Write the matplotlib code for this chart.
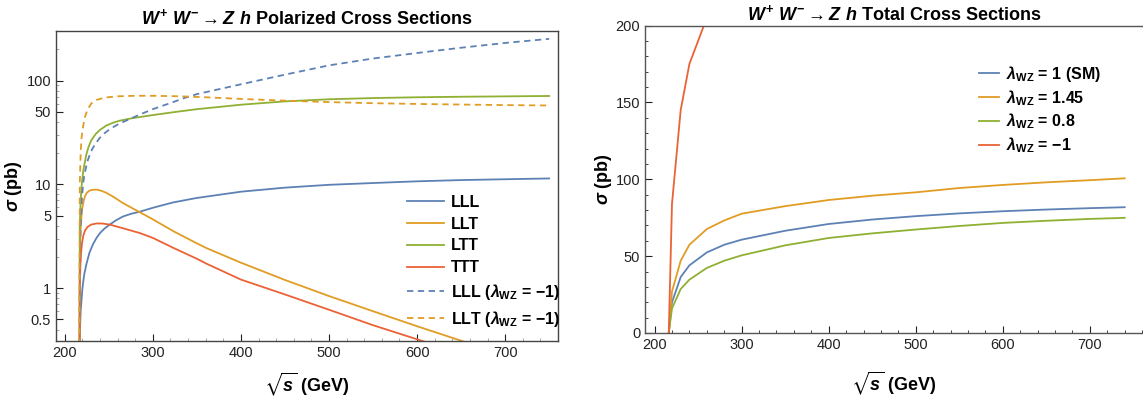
import numpy as np
import matplotlib.pyplot as plt
from matplotlib.ticker import FixedLocator, FixedFormatter, MultipleLocator

plt.rcParams['font.family'] = ['Liberation Sans', 'DejaVu Sans']
plt.rcParams['mathtext.fontset'] = 'custom'
plt.rcParams['mathtext.rm'] = 'Liberation Sans:bold'
plt.rcParams['mathtext.it'] = 'Liberation Sans:italic:bold'
plt.rcParams['mathtext.bf'] = 'Liberation Sans:bold'
plt.rcParams['mathtext.fallback'] = 'stixsans'

# Mathematica default colours
c_blue, c_orange, c_green, c_red = '#5E81B5', '#E19C24', '#8FB032', '#EB6235'

# ---- left panel: polarized cross sections (pb) ----
e_lll = [216.3, 217, 218, 220, 222, 224.5, 228, 232, 236, 240, 245, 251, 258, 266, 275, 285, 300, 323, 350,
         400, 450, 500, 550, 600, 650, 700, 750]
s_lll = [0.001, 0.35, 0.6, 1.0, 1.35, 1.7, 2.2, 2.65, 3.05, 3.4, 3.75, 4.1, 4.5, 4.9, 5.2, 5.45, 5.95, 6.7, 7.4,
         8.5, 9.3, 9.9, 10.3, 10.7, 11.0, 11.2, 11.4]

e_llt = [216.3, 217, 218, 219, 220, 221.5, 223, 225, 228, 231, 236, 241, 247, 255, 266, 275, 285, 300, 323, 350,
         361, 400, 450, 500, 550, 600, 651, 680]
s_llt = [0.001, 2.0, 3.8, 5.0, 6.0, 7.0, 7.7, 8.3, 8.7, 8.85, 8.9, 8.7, 8.3, 7.6, 6.6, 6.0, 5.4, 4.6, 3.55, 2.7,
         2.43, 1.76, 1.2, 0.84, 0.6, 0.43, 0.31, 0.25]

e_ltt = [216.3, 217, 218, 219, 220, 221, 222.5, 224.5, 227, 230, 235, 240, 247, 255, 262, 276, 300, 323, 350,
         400, 450, 500, 550, 600, 650, 700, 750]
s_ltt = [0.001, 4, 7, 9.5, 11.5, 13.5, 16, 19.5, 23, 26.5, 30.5, 33.5, 36.8, 39.3, 41, 43.3, 46.5, 49.5, 53,
         58.5, 63, 66, 67.8, 69, 69.8, 70.4, 71]

e_ttt = [216.3, 217, 217.5, 218.5, 219.5, 221, 223, 226, 230, 236, 242, 251, 265, 285, 300, 323, 350, 361,
         400, 450, 500, 550, 606, 630]
s_ttt = [0.001, 1.0, 1.5, 2.2, 2.7, 3.2, 3.6, 3.9, 4.1, 4.2, 4.2, 4.1, 3.8, 3.4, 3.05, 2.45, 1.92, 1.72,
         1.21, 0.87, 0.62, 0.44, 0.31, 0.27]

e_lll_m1 = [216.3, 217, 218, 219.5, 220.7, 222, 224, 226, 228.3, 231, 234, 239.6, 245, 250, 256, 262, 275, 285,
            300, 323, 336, 350, 400, 450, 500, 550, 613, 650, 704, 750]
s_lll_m1 = [0.001, 1.5, 4, 7.5, 9.9, 12, 14.5, 17, 19.2, 21.8, 24, 28, 31, 33.5, 36, 38.5, 43, 47,
            53, 62, 68, 74, 92, 114, 140, 163, 190, 207, 232, 252]

e_llt_m1 = [216.3, 217, 218, 219, 220.7, 223, 226, 230, 236, 245, 260, 280, 300, 330, 360, 400, 450, 500,
            550, 600, 650, 700, 750]
s_llt_m1 = [0.001, 10, 20, 28, 36, 45, 53, 60, 65, 68.5, 70.5, 71.3, 71.3, 70.5, 69, 66.5, 64, 62,
            60.5, 59.5, 58.7, 58, 57.5]

# ---- right panel: total cross sections (pb) ----
e_tot = [216.3, 220, 230, 240, 260, 280, 300, 350, 400, 450, 500, 550, 600, 650, 700, 740]
s_sm = [0, 20, 36.4, 44, 52.4, 57.4, 60.7, 66.5, 70.9, 73.8, 76, 77.8, 79.2, 80.3, 81.2, 81.8]
s_145 = [0, 27, 47, 57.4, 67.6, 73.2, 77.6, 82.5, 86.5, 89.3, 91.5, 94.3, 96.3, 98, 99.4, 100.6]
s_08 = [0, 16, 28.6, 34.7, 42.3, 47, 50.5, 57, 61.8, 64.8, 67.3, 69.6, 71.6, 73, 74.2, 74.9]
e_m1 = [216.3, 220, 230, 240, 260]
s_m1 = [0, 84, 145, 175, 205]

fig = plt.figure(figsize=(11.43, 3.98), dpi=100)
ax1 = fig.add_axes([56 / 1143, 57 / 398, 502 / 1143, 310 / 398])
ax2 = fig.add_axes([645 / 1143, 65 / 398, 498 / 1143, 307.5 / 398])

lw = 1.3
ax1.plot(e_lll, s_lll, color=c_blue, lw=lw, label='LLL')
ax1.plot(e_llt, s_llt, color=c_orange, lw=lw, label='LLT')
ax1.plot(e_ltt, s_ltt, color=c_green, lw=lw, label='LTT')
ax1.plot(e_ttt, s_ttt, color=c_red, lw=lw, label='TTT')
ax1.plot(e_lll_m1, s_lll_m1, color=c_blue, lw=lw, ls=(0, (3.5, 2.5)),
         label=r'LLL ($\lambda_{\mathrm{WZ}}$ = −1)')
ax1.plot(e_llt_m1, s_llt_m1, color=c_orange, lw=lw, ls=(0, (3.5, 2.5)),
         label=r'LLT ($\lambda_{\mathrm{WZ}}$ = −1)')

ax1.set_yscale('log')
ax1.set_xlim(190, 760)
ax1.set_ylim(0.31, 300)
yt = [0.5, 1, 5, 10, 50, 100]
ax1.yaxis.set_major_locator(FixedLocator(yt))
ax1.yaxis.set_major_formatter(FixedFormatter(['0.5', '1', '5', '10', '50', '100']))
minor = [m * 10.0 ** d for d in (-1, 0, 1, 2) for m in (2, 3, 4, 6, 7, 8, 9)]
ax1.yaxis.set_minor_locator(FixedLocator(minor))
ax1.yaxis.set_minor_formatter(FixedFormatter([''] * len(minor)))
ax1.xaxis.set_major_locator(MultipleLocator(100))
ax1.xaxis.set_minor_locator(MultipleLocator(20))
ax1.tick_params(which='both', direction='in', top=False, right=False, labelsize=10.5, colors='#222222')
ax1.tick_params(which='major', length=5)
ax1.tick_params(which='minor', length=2.5, color='#999999')
for s in ax1.spines.values():
    s.set_color('#444444')
    s.set_linewidth(1.0)

ax1.set_title(r'$W^{+}\ W^{-} \rightarrow Z\ h$ Polarized Cross Sections',
              fontsize=13, fontweight='bold', pad=5)
ax1.set_xlabel(r'$\sqrt{s}$ (GeV)', fontsize=13, fontweight='bold')
ax1.set_ylabel(r'$\sigma$ (pb)', fontsize=13, fontweight='bold')
ax1.xaxis.set_label_coords(0.5, -0.095)
ax1.yaxis.set_label_coords(-0.064, 0.5)
ax1.legend(loc='upper left', bbox_to_anchor=(0.7, 0.471), frameon=False,
           prop={'weight': 'bold', 'size': 11.5}, handlelength=2.3,
           handletextpad=0.4, labelspacing=0.42, borderaxespad=0, borderpad=0)

ax2.plot(e_tot, s_sm, color=c_blue, lw=lw, label=r'$\lambda_{\mathrm{WZ}}$ = 1 (SM)')
ax2.plot(e_tot, s_145, color=c_orange, lw=lw, label=r'$\lambda_{\mathrm{WZ}}$ = 1.45')
ax2.plot(e_tot, s_08, color=c_green, lw=lw, label=r'$\lambda_{\mathrm{WZ}}$ = 0.8')
ax2.plot(e_m1, s_m1, color=c_red, lw=lw, label=r'$\lambda_{\mathrm{WZ}}$ = −1')
ax2.set_xlim(189, 761)
ax2.set_ylim(0, 200)
ax2.xaxis.set_major_locator(MultipleLocator(100))
ax2.xaxis.set_minor_locator(MultipleLocator(20))
ax2.yaxis.set_major_locator(MultipleLocator(50))
ax2.yaxis.set_minor_locator(MultipleLocator(10))
ax2.tick_params(which='both', direction='in', labelsize=10.5, colors='#222222')
ax2.tick_params(which='major', length=5)
ax2.tick_params(which='minor', length=2.5)
ax2.spines['right'].set_visible(False)
for k in ('left', 'bottom', 'top'):
    ax2.spines[k].set_color('#555555')
    ax2.spines[k].set_linewidth(1.0)
ax2.set_title(r'$W^{+}\ W^{-} \rightarrow Z\ h$ Total Cross Sections',
              fontsize=13, fontweight='bold', pad=4)
ax2.set_xlabel(r'$\sqrt{s}$ (GeV)', fontsize=13, fontweight='bold')
ax2.set_ylabel(r'$\sigma$ (pb)', fontsize=13, fontweight='bold')
ax2.xaxis.set_label_coords(0.5, -0.12)
ax2.yaxis.set_label_coords(-0.062, 0.5)
ax2.legend(loc='upper left', bbox_to_anchor=(0.67, 0.875), frameon=False,
           prop={'weight': 'bold', 'size': 11.5}, handlelength=1.3,
           handletextpad=0.4, labelspacing=0.25, borderaxespad=0, borderpad=0)

fig.savefig('out.png', dpi=100)
